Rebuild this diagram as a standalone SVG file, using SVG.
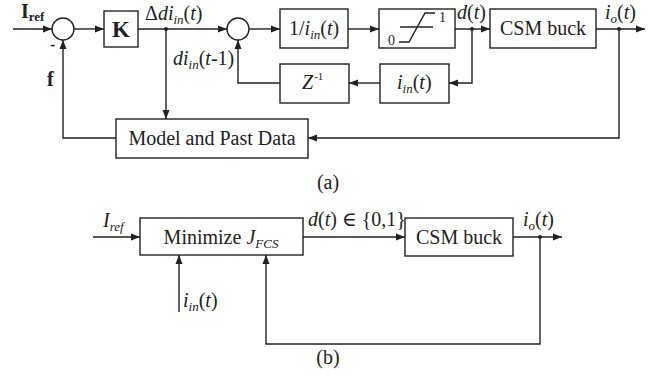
<svg xmlns="http://www.w3.org/2000/svg" width="658" height="382" viewBox="0 0 658 382" font-family="'Liberation Serif', 'DejaVu Serif', serif">
  <defs>
    <marker id="arrow" markerUnits="userSpaceOnUse" markerWidth="10" markerHeight="8" refX="9" refY="4" orient="auto">
      <path d="M0,0.5 L9,4 L0,7.5 z" fill="#222"/>
    </marker>
    <style>
      .box { fill: #fff; stroke: #222; stroke-width: 1.4; }
      .sum { fill: #fff; stroke: #222; stroke-width: 1.4; }
      .wire { fill: none; stroke: #222; stroke-width: 1.4; }
      .arr { marker-end: url(#arrow); }
      .dot { fill: #222; }
      text { font-family: 'Liberation Serif', 'DejaVu Serif', serif; fill: #222; font-size: 20px; }
      .it { font-style: italic; }
      .bold { font-weight: bold; }
      .mid { text-anchor: middle; }
      .sub { font-size: 13px; }
    </style>
  </defs>

  <!-- (a) predictive controller with duty-cycle loop -->
  <g id="connectors-a">
    <path class="wire arr" d="M13,29 H52"/>
    <path class="wire arr" d="M74,29 H104"/>
    <path class="wire arr" d="M138,29 H227"/>
    <path class="wire arr" d="M166,29 V119"/>
    <path class="wire arr" d="M249,29 H280"/>
    <path class="wire arr" d="M348,29 H379"/>
    <path class="wire arr" d="M455,29 H490"/>
    <path class="wire arr" d="M596,29 H645"/>
    <path class="wire arr" d="M472,29 V83 H449"/>
    <path class="wire arr" d="M380,83 H349"/>
    <path class="wire arr" d="M280,83 H238 V40"/>
    <path class="wire arr" d="M619,29 V138 H308"/>
    <path class="wire arr" d="M116,138 H63 V40"/>
    <circle class="dot" cx="166" cy="29" r="2"/>
    <circle class="dot" cx="472" cy="29" r="2"/>
    <circle class="dot" cx="619" cy="29" r="2"/>
  </g>

  <g id="sum1"><circle class="sum" cx="63" cy="29" r="11"/></g>
  <g id="sum2"><circle class="sum" cx="238" cy="29" r="11"/></g>

  <g id="gain-k">
    <rect class="box" x="104" y="11" width="34" height="36"/>
    <text class="bold mid" x="121" y="37" style="font-size:23px">K</text>
  </g>

  <g id="inverse-iin">
    <rect class="box" x="280" y="9" width="68" height="39"/>
    <text x="289" y="35">1/<tspan class="it">i</tspan><tspan class="it sub" dy="4">in</tspan><tspan dy="-4">(</tspan><tspan class="it">t</tspan>)</text>
  </g>

  <g id="saturation">
    <rect class="box" x="379" y="9" width="76" height="39"/>
    <path class="wire" d="M400,27 H433" stroke-width="1.2"/>
    <path class="wire" d="M399,42 H409 L425,13 H435" stroke-width="1.3"/>
    <text x="388" y="45" style="font-size:14px">0</text>
    <text x="439" y="22" style="font-size:14px">1</text>
  </g>

  <g id="csm-buck-a">
    <rect class="box" x="490" y="9" width="106" height="39"/>
    <text class="mid" x="543" y="35">CSM buck</text>
  </g>

  <g id="iin-block">
    <rect class="box" x="380" y="64" width="69" height="39"/>
    <text x="397" y="89"><tspan class="it">i</tspan><tspan class="it sub" dy="4">in</tspan><tspan dy="-4">(</tspan><tspan class="it">t</tspan>)</text>
  </g>

  <g id="delay">
    <rect class="box" x="280" y="64" width="69" height="39"/>
    <text x="302" y="89"><tspan class="it">Z</tspan><tspan dx="1" dy="-9" style="font-size:11px">-1</tspan></text>
  </g>

  <g id="model">
    <rect class="box" x="116" y="119" width="192" height="39"/>
    <text class="mid" x="212" y="145">Model and Past Data</text>
  </g>

  <g id="labels-a">
    <text class="bold" x="21" y="18">I<tspan class="sub" dy="3">ref</tspan></text>
    <text class="bold" x="50" y="50" style="font-size:16px">-</text>
    <text class="bold" x="47" y="86">f</text>
    <text x="145" y="20">Δ<tspan class="it">d</tspan><tspan class="it">i</tspan><tspan class="it sub" dy="4">in</tspan><tspan dy="-4">(</tspan><tspan class="it">t</tspan>)</text>
    <text x="173" y="65"><tspan class="it">d</tspan><tspan class="it">i</tspan><tspan class="it sub" dy="4">in</tspan><tspan dy="-4">(</tspan><tspan class="it">t</tspan>-1)</text>
    <text x="457" y="19"><tspan class="it">d</tspan>(<tspan class="it">t</tspan>)</text>
    <text x="605" y="19"><tspan class="it">i</tspan><tspan class="it sub" dy="4">o</tspan><tspan dy="-4">(</tspan><tspan class="it">t</tspan>)</text>
    <text class="mid" x="328" y="189">(a)</text>
  </g>

  <!-- (b) finite control set predictive controller -->
  <g id="connectors-b">
    <path class="wire arr" d="M93,237 H140"/>
    <path class="wire arr" d="M303,237 H405"/>
    <path class="wire arr" d="M513,237 H562"/>
    <path class="wire arr" d="M179,312 V255"/>
    <path class="wire arr" d="M540,237 V344 H266 V255"/>
    <circle class="dot" cx="540" cy="237" r="2"/>
  </g>

  <g id="minimize">
    <rect class="box" x="140" y="218" width="163" height="37"/>
    <text class="mid" x="221" y="244">Minimize <tspan class="it">J</tspan><tspan class="it sub" dy="4">FCS</tspan></text>
  </g>

  <g id="csm-buck-b">
    <rect class="box" x="405" y="218" width="108" height="38"/>
    <text class="mid" x="459" y="244">CSM buck</text>
  </g>

  <g id="labels-b">
    <text x="103" y="227"><tspan class="it">I</tspan><tspan class="it sub" dy="4">ref</tspan></text>
    <text x="308" y="226"><tspan class="it">d</tspan>(<tspan class="it">t</tspan>) ∈ {0,1}</text>
    <text x="523" y="226"><tspan class="it">i</tspan><tspan class="it sub" dy="4">o</tspan><tspan dy="-4">(</tspan><tspan class="it">t</tspan>)</text>
    <text x="183" y="307"><tspan class="it">i</tspan><tspan class="it sub" dy="4">in</tspan><tspan dy="-4">(</tspan><tspan class="it">t</tspan>)</text>
    <text class="mid" x="328" y="364">(b)</text>
  </g>
</svg>
